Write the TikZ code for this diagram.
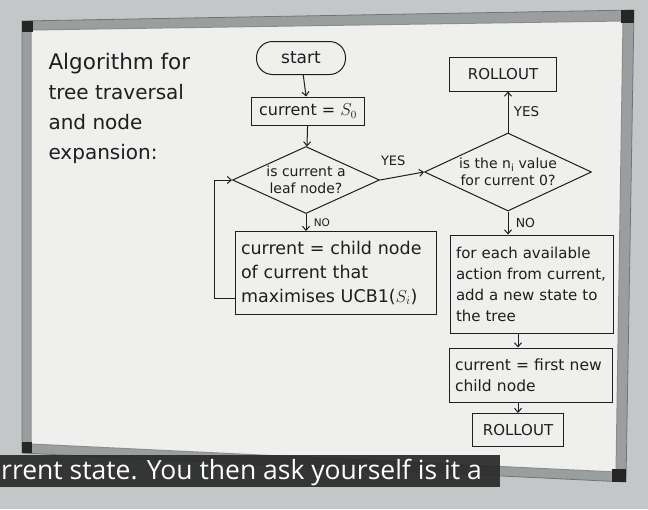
\documentclass[tikz,border=0pt]{standalone}
\usepackage{fontspec}
\setmainfont{DejaVu Sans}
\newfontfamily\capfont{Open Sans}
\usetikzlibrary{shapes.geometric, arrows.meta, positioning}
\definecolor{wall}{HTML}{C4C7C8}
\definecolor{board}{HTML}{EFEFED}
\definecolor{rim}{HTML}{9B9E9F}
\definecolor{ink}{HTML}{1E1E1E}
\definecolor{capbg}{HTML}{2A2A2A}

\begin{document}
\begin{tikzpicture}[x=1pt,y=-1pt,node distance=14pt,
     box/.style={rectangle, draw=ink, line width=1pt, text=ink, align=left, inner sep=4pt, font=\fontsize{15}{21}\selectfont},
     choice/.style={diamond, draw=ink, line width=1pt, text=ink, align=center, inner sep=-3pt, font=\fontsize{14}{17}\selectfont},
     lbl/.style={text=ink, font=\fontsize{11}{12}\selectfont},
     corner/.style={fill=black!85},
     arrow/.style={line width=1pt, draw=ink, -{Straight Barb[length=4pt,width=7pt]}}]
     % wall, board and frame
     \fill[wall] (0,0) rectangle (648,509);
     \fill[rim] (22,21) -- (634,10) -- (626,482) -- (22,453) -- cycle;
     \draw[black!55, line width=0.8pt] (22,21) -- (634,10) -- (626,482) -- (22,453) -- cycle;
     \fill[board] (31,30) -- (623,21) -- (616,472) -- (31,444) -- cycle;
     \draw[black!45, line width=1pt] (31,30) -- (623,21) -- (616,472) -- (31,444) -- cycle;
     \fill[corner] (22,21) rectangle (33,32);\fill[corner] (621,10) rectangle (634,23);
     \fill[corner] (612,469) rectangle (626,482);\fill[corner] (22,442) rectangle (32,453);
     % title
     \node (title) [anchor=north west, align=left, text=ink, font=\fontsize{20}{30}\selectfont] at (45,50)
        {{\fontsize{21.5}{30}\selectfont Algorithm for}\\tree traversal\\and node\\expansion:};
     % left column
     \node (start) [box, rounded corners=16pt, align=center, minimum width=89pt, minimum height=33pt, font=\fontsize{17}{20}\selectfont] at (301,58) {start};
     \node (cur0)  [box, minimum width=113pt, minimum height=28pt, align=center, font=\fontsize{16}{18}\selectfont] at (308,111) {current = $S_0$};
     \node (leaf)  [choice, shape aspect=2.2, minimum width=147pt, minimum height=67pt] at (306,180) {is current a\\leaf node?};
     \node (child) [box, minimum width=201pt, minimum height=83pt, text width=190pt, font=\fontsize{17.5}{24}\selectfont] at (336,273) {current = child node\\of current that\\maximises UCB1($S_i$)};
     % right column
     \node (niv)   [choice, shape aspect=2.14, minimum width=167pt, minimum height=78pt] at (508,172) {is the n\textsubscript{i} value\\for current 0?};
     \node (roll1) [box, minimum width=107pt, minimum height=34pt, align=center, font=\fontsize{15}{16}\selectfont] at (503,74) {ROLLOUT};
     \node (expand)[box, minimum width=163pt, minimum height=98pt, text width=152pt, font=\fontsize{15}{21}\selectfont] at (532,284) {for each available\\action from current,\\add a new state to\\the tree};
     \node (first) [box, minimum width=163pt, minimum height=54pt, text width=152pt, font=\fontsize{15.5}{21}\selectfont] at (531,375) {current = first new\\child node};
     \node (roll2) [box, minimum width=91pt, minimum height=33pt, align=center, font=\fontsize{15}{16}\selectfont] at (518,430) {ROLLOUT};
     % connectors
     \draw [arrow] (start) -- (cur0);\draw [arrow] (cur0) -- (leaf);
     \draw [arrow] (leaf.east) -- node[lbl, above, pos=0.3, yshift=8pt, font=\fontsize{13}{14}\selectfont] {YES} (niv.west);
     \draw [arrow] (leaf.south) -- node[lbl, right, xshift=4pt, font=\fontsize{10.5}{12}\selectfont] {NO} (leaf.south |- child.north);
     \draw [arrow] ([yshift=17pt]child.south west) -- ++(-21,0) |- (leaf.west);
     \draw [arrow] (niv.north) -- node[lbl, right, xshift=2pt, font=\fontsize{13.5}{14}\selectfont] {YES} (niv.north |- roll1.south);
     \draw [arrow] (niv.south) -- node[lbl, right, xshift=4pt, font=\fontsize{12.5}{14}\selectfont] {NO} (niv.south |- expand.north);
     \draw [arrow] (expand.south -| roll2) -- (first.north -| roll2);\draw [arrow] (first.south -| roll2) -- (roll2);
     % subtitle
     \node (cap) [anchor=north west, fill=capbg, fill opacity=0.93, text opacity=1, text=white, minimum height=32pt,
        inner xsep=0pt, inner ysep=0pt, text height=20pt, text depth=4pt, font=\capfont\fontsize{26.5}{28}\selectfont] at (0,455)
        {\makebox[500pt][l]{\hspace*{1pt}rrent state. You then ask yourself is it a}};
\end{tikzpicture}
\end{document}
